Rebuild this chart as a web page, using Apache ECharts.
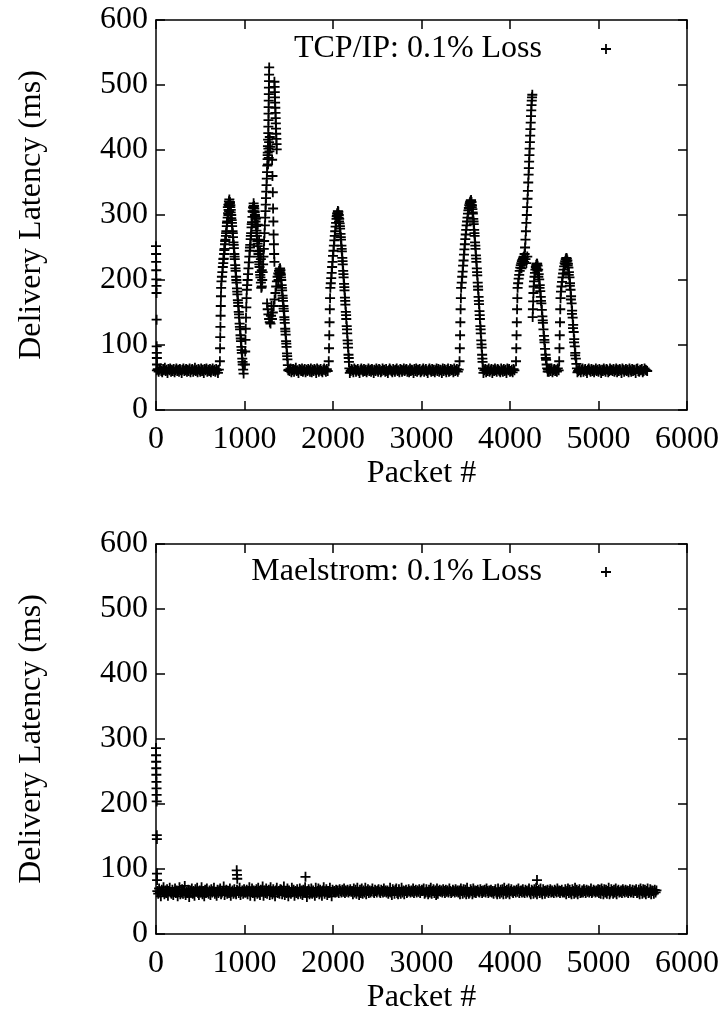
<!DOCTYPE html>
<html>
<head>
<meta charset="utf-8">
<script src="https://cdn.jsdelivr.net/npm/echarts@6/dist/echarts.min.js"></script>
<style>
html,body{margin:0;padding:0;background:#fff;}
#chart{width:728px;height:1030px;}
</style>
</head>
<body>
<div id="chart"></div>
<script>
// ---------- DATA ----------
const xTicks = [0, 1000, 2000, 3000, 4000, 5000, 6000];
const yTicks = [0, 100, 200, 300, 400, 500, 600];

// TCP/IP: first packets (x = 0,1,2,...)
const tcpStartY = [252, 240, 228, 215, 201, 191, 180, 139, 98, 88, 80, 70];

// Baselines: one value every BASE_STEP packets from each segment start
const BASE_STEP = 10;
const tcpBaseStarts = [10, 1500, 2200, 3710, 4430, 4770];
const tcpBase1 = [61,63,59,62,64,60,58,63,61,65,60,62,57,63,61,64,59,62,60,63,
58,61,64,60,62,59,63,61,57,62,64,60,61,63,59,62,60,64,58,62,
63,59,61,65,60,62,58,63,61,59,64,60,62,57,63,61,64,59,62,60,
63,58,61,64,60,62,59,63,61,57,62];
const tcpBase2 = [62,60,64,58,61,63,59,62,65,60,61,57,63,62,60,64,59,61,63,58,
62,60,63,61,59,64,58,62,60,63,61,57,64,62,59,61,63,60,58,62,
64,61,59,63,60];
const tcpBase3 = [60,63,61,58,64,62,59,61,63,60,57,62,64,61,59,63,60,62,58,61,
64,60,62,59,63,61,57,62,60,64,61,59,63,62,58,60,64,61,62,59,
63,60,57,61,64,62,60,58,63,61,59,62,64,60,61,58,63,62,59,61,
64,60,62,63,59,61,58,64,60,62,61,57,63,60,64,59,62,61,63,58,
60,62,64,59,61,63,60,57,62,64,61,59,63,60,62,58,61,64,60,63,
59,62,61,57,64,60,63,61,58,62,64,59,60,63,61,62,58,64,60,61,
63,59,62];
const tcpBase4 = [61,63,58,62,60,64,59,61,63,57,62,60,64,61,59,63,62,60,58,64,
61,59,63,60,62,57,64,61,63,59,60,62,58,63,61];
const tcpBase5 = [62,59,63,60,64,58,61,63,60,62,59,64,61];
const tcpBase6 = [60,63,61,58,62,64,59,61,63,60,57,62,64,61,59,63,60,62,58,61,
64,60,62,59,63,61,57,62,60,64,61,59,63,62,58,60,64,61,62,60,
63,59,61,64,58,62,60,63,61,57,64,62,59,61,63,60,62,58,64,61,
59,63,60,62,61,57,63,64,60,59,62,61,63,58,60,64,62,61,60];

// TCP/IP latency humps: [packet, latency]
const tcpPeak1 = [[722,75],[724,95],[726,112],[728,128],[730,145],[732,160],[734,175],[736,188],[740,198],[745,205],[750,212],[755,220],[760,226],[765,233],[770,240],[775,248],[780,255],[785,262],[790,268],[795,275],[800,283],[805,290],[810,296],[815,303],[820,308],[825,314],[830,318],[835,320],[840,315],[845,308],[850,300],[855,292],[860,283],[865,275],[870,266],[875,258],[880,249],[885,240],[890,232],[895,223],[900,214],[905,205],[910,196],[915,187],[920,178],[925,169],[930,160],[935,151],[940,142],[945,133],[950,124],[955,115],[960,106],[965,97],[970,88],[975,79],[980,70],[985,62],[990,56],
  [812,312],[818,316],[824,321],[829,324],[834,318],[839,312],[844,304],[850,295],[818,300],[826,306],[842,300],[858,288],[868,272],[878,254],[888,236],[898,218],[908,200],[918,182],[928,165],[938,147],[948,128],[958,110],[968,92],[978,74],[762,232],[772,246],[782,260],[792,272],[802,288]];
const tcpPeak2 = [[1005,70],[1008,90],[1011,108],[1014,125],[1017,142],[1020,158],[1023,172],[1026,185],[1030,192],[1035,200],[1040,209],[1045,218],[1050,227],[1055,236],[1060,245],[1065,254],[1070,263],[1075,272],[1080,281],[1085,289],[1090,297],[1095,305],[1100,311],[1105,314],[1110,310],[1115,304],[1120,297],[1125,290],[1130,283],[1135,276],[1140,268],[1145,260],[1150,252],[1155,244],[1160,236],[1165,228],[1170,220],[1175,212],[1180,204],[1185,196],[1190,188],[1130,295],[1150,285],[1165,262],[1175,245],[1185,232],[1195,215],
  [1092,306],[1098,312],[1103,318],[1108,314],[1113,306],[1118,300],[1124,294],[1138,272],[1148,256],[1158,240],[1168,224],[1178,208],[1062,250],[1072,268],[1082,286]];
const tcpSpike = [[1195,190],[1200,200],[1205,212],[1210,224],[1214,236],[1218,248],[1222,260],[1226,272],[1230,284],[1234,296],[1237,306],[1240,316],[1243,326],[1246,336],[1249,346],[1252,356],[1255,366],[1258,376],[1261,386],[1263,396],[1265,406],[1267,416],[1269,426],[1270,436],[1271,446],[1272,456],[1273,466],[1274,476],[1275,486],[1276,496],[1277,506],[1278,516],[1279,527],
  [1338,505],[1340,497],[1342,489],[1344,481],[1346,473],[1348,465],[1350,457],[1352,449],[1354,441],[1356,433],[1358,425],[1360,417],[1362,409],[1364,401],[1312,385],[1316,360],[1320,335],[1323,310],[1326,290],[1329,270],[1332,255],[1335,240],[1338,228],
  [1255,164],[1262,155],[1270,147],[1278,140],[1286,135],[1294,133],[1300,145],[1305,160],
  [1262,392],[1266,378],[1270,402],[1274,388],[1278,412],[1282,398],[1286,420],[1290,405]];
const tcpPeak3 = [[1310,140],[1320,150],[1330,160],[1340,170],[1350,180],[1358,190],[1366,198],[1374,205],[1382,210],[1385,200],[1390,214],[1395,208],[1396,217],[1400,212],[1402,218],[1406,215],[1408,210],[1410,208],[1415,200],[1420,192],[1425,184],[1430,176],[1435,168],[1440,160],[1445,152],[1450,143],[1455,134],[1460,125],[1465,116],[1470,106],[1475,97],[1480,87],[1485,78],[1490,69],[1495,61],
  [1412,204],[1422,188],[1432,172],[1442,156],[1452,139],[1462,121],[1472,102],[1482,83]];
const tcpPeak4 = [[1952,75],[1955,95],[1958,115],[1961,135],[1964,155],[1967,172],[1970,188],[1975,195],[1980,203],[1985,211],[1990,220],[1995,228],[2000,237],[2005,245],[2010,253],[2015,261],[2020,268],[2025,275],[2030,282],[2035,288],[2040,294],[2045,299],[2050,303],[2055,306],[2060,305],[2065,300],[2070,294],[2075,287],[2080,279],[2085,271],[2090,262],[2095,253],[2100,244],[2105,234],[2110,224],[2115,214],[2120,204],[2125,194],[2130,184],[2135,173],[2140,162],[2145,151],[2150,140],[2155,129],[2160,118],[2165,107],[2170,96],[2175,85],[2180,74],[2185,64],[2190,57],
  [2042,298],[2048,302],[2058,302],[2063,296],[2068,290],[2078,283],[2088,266],[2098,248],[2108,229],[2118,209],[2128,189],[2138,168],[2148,146],[2158,124],[2168,102],[2178,80]];
const tcpPeak5 = [[3430,75],[3433,95],[3436,115],[3439,135],[3442,155],[3445,172],[3448,188],[3455,196],[3460,205],[3465,213],[3470,222],[3475,230],[3480,239],[3485,247],[3490,255],[3495,263],[3500,270],[3505,277],[3510,284],[3515,290],[3520,296],[3525,302],[3530,307],[3535,311],[3540,315],[3545,318],[3550,320],[3555,322],[3560,323],[3565,320],[3570,315],[3575,309],[3580,302],[3585,294],[3590,286],[3595,277],[3600,268],[3605,258],[3610,248],[3615,238],[3620,228],[3625,218],[3630,207],[3635,196],[3640,185],[3645,174],[3650,163],[3655,152],[3660,140],[3665,129],[3670,118],[3675,107],[3680,96],[3685,85],[3690,74],[3695,64],[3700,57],
  [3538,310],[3548,314],[3558,316],[3568,312],[3578,304],[3588,290],[3598,272],[3608,253],[3618,233],[3628,212],[3638,190],[3648,168],[3658,146],[3668,124],[3678,101],[3688,79]];
const tcpPeak6 = [[4068,75],[4071,95],[4074,115],[4077,135],[4080,155],[4083,172],[4086,188],[4092,195],[4098,202],[4104,208],[4110,214],[4116,219],[4122,223],[4128,226],[4134,229],[4140,231],[4146,233],[4152,235],[4158,236],
  [4165,240],[4170,250],[4175,262],[4180,275],[4185,288],[4190,300],[4194,312],[4198,325],[4202,337],[4206,350],[4210,362],[4213,372],[4216,382],[4219,392],[4222,402],[4225,412],[4228,422],[4231,432],[4234,442],[4237,452],[4240,461],[4243,469],[4246,476],[4249,481],[4252,485],
  [4256,143],[4259,155],[4262,167],[4265,180],[4268,190],[4272,198],[4277,205],[4282,211],[4287,216],[4292,220],[4297,223],[4302,225],[4307,225],
  [4312,222],[4318,216],[4324,209],[4330,201],[4336,192],[4342,183],[4348,174],[4354,164],[4360,154],[4366,144],[4372,134],[4378,124],[4384,114],[4390,104],[4396,94],[4402,85],[4408,77],[4414,70],[4420,64],[4426,59],
  [4130,218],[4145,225],[4160,228],[4175,232],[4185,226],[4195,236],[4300,218],[4310,214],[4320,205],[4334,188],[4350,168],[4370,138],[4388,108],[4405,80]];
const tcpPeak7 = [[4556,75],[4559,95],[4562,115],[4565,135],[4568,155],[4571,172],[4576,182],[4582,190],[4588,197],[4594,204],[4600,210],[4606,216],[4612,221],[4618,226],[4624,229],[4630,232],[4636,234],[4642,233],[4648,230],[4654,225],[4660,219],[4666,212],[4672,204],[4678,195],[4684,185],[4690,175],[4696,164],[4702,153],[4708,142],[4714,131],[4720,120],[4726,109],[4732,98],[4738,88],[4744,79],[4750,71],[4756,64],[4762,58],
  [4626,224],[4640,228],[4652,222],[4664,208],[4676,191],[4688,170],[4700,148],[4712,126],[4724,104],[4736,84]];

// Maelstrom: first packets (x = 0,1,2,...)
const mStartY = [286, 275, 265, 255, 245, 234, 224, 214, 204, 152, 146, 93, 83];
// Maelstrom: isolated spikes [packet, latency]
const mOutliers = [[912,98],[915,91],[918,85],[1689,88],[4305,83]];
// Maelstrom baseline from mBaseStart, one value every BASE_STEP packets
const mBaseStart = 15;
const mBase = [66,62,70,64,58,68,65,72,61,67,63,69,59,66,71,64,62,68,60,65,
70,63,67,58,66,72,61,64,69,62,66,74,60,65,63,68,57,67,64,70,
62,66,59,69,65,71,63,60,67,64,72,61,66,58,68,63,70,65,62,67,
60,69,64,66,71,62,65,59,68,63,67,70,61,64,66,73,60,65,68,62,
66,63,70,59,65,67,62,69,64,61,68,66,63,71,60,65,67,62,69,64,
64,68,61,66,72,59,65,70,63,67,58,66,69,62,71,64,60,68,65,73,
59,67,63,70,62,66,68,60,72,65,61,69,64,58,67,71,63,66,62,69,
68,61,65,73,60,66,63,70,58,67,64,62,71,65,68,59,66,63,69,61,
65,70,62,67,60,68,64,72,63,57,66,69,61,65,70,62,67,64,59,71,
63,66,70,61,68,64,59,67,72,62,65,69,60,66,63,71,64,58,68,65,
66,64,68,65,67,63,69,66,64,68,65,70,63,67,65,68,64,66,69,65,
66,61,70,64,68,62,71,65,60,68,63,70,62,67,64,71,61,66,69,63,
67,64,66,70,65,63,68,66,64,67,69,65,63,68,66,64,70,65,67,64,
67,62,65,71,64,60,69,66,62,68,70,63,61,69,65,62,71,64,67,61,
66,68,63,65,69,66,64,67,65,70,63,66,68,64,67,65,69,63,66,68,
66,70,62,64,69,65,61,68,64,71,62,66,69,63,67,60,70,62,66,68,
65,67,64,69,66,63,68,65,67,64,70,66,63,65,68,66,64,69,65,67,
64,67,61,70,66,62,69,64,68,61,71,65,62,64,69,66,61,70,64,67,
63,66,68,65,64,69,66,63,67,65,68,64,70,66,63,67,65,68,64,66,
62,66,69,64,61,70,65,62,68,64,69,61,71,66,62,68,64,70,61,66,
69,65,63,67,66,64,68,65,70,63,66,67,64,69,65,63,68,66,64,67,
70,64,61,68,66,62,69,64,71,61,66,68,63,70,64,61,69,66,62,67,
65,68,63,66,69,64,67,65,63,68,66,64,70,65,67,63,66,68,64,65,
64,69,61,66,70,63,68,64,61,69,66,62,71,64,68,61,66,69,63,64,
67,64,69,66,63,68,65,67,64,66,70,63,65,68,66,64,67,65,69,63,
68,62,70,66,61,69,64,68,62,66,71,61,64,69,66,62,68,64,70,61,
66,68,64,65,67,63,69,66,64,68,65,67,63,66,69,64,65,68,63,67,
66,69,63,64,68,61,70,66,62,69,64,68,61,66,70,63,64,69,61,67,
66,62,68,64,67];

const tcpName = 'TCP/IP: 0.1% Loss';
const mName = 'Maelstrom: 0.1% Loss';

// ---------- BUILD SERIES DATA ----------
function seq(start, step, ys) { return ys.map((y, i) => [start + i * step, y]); }
const tcpBaseAll = [tcpBase1, tcpBase2, tcpBase3, tcpBase4, tcpBase5, tcpBase6];
let tcpData = seq(0, 1, tcpStartY);
tcpBaseAll.forEach((arr, k) => { tcpData = tcpData.concat(seq(tcpBaseStarts[k], BASE_STEP, arr)); });
tcpData = tcpData.concat(tcpPeak1, tcpPeak2, tcpSpike, tcpPeak3, tcpPeak4, tcpPeak5, tcpPeak6, tcpPeak7);

let mData = seq(0, 1, mStartY).concat(seq(mBaseStart, BASE_STEP, mBase), mOutliers);

// ---------- CHART ----------
const FONT = 'Liberation Serif';
const PLUS = 'path://M0,4.1H10V5.9H0ZM4.1,0H5.9V10H4.1Z';
const black = '#000';

function xAx(grid, pos, main) {
  return {
    type: 'value', gridIndex: grid, position: pos,
    min: xTicks[0], max: xTicks[xTicks.length - 1], interval: xTicks[1] - xTicks[0],
    axisLine: { show: true, onZero: false, lineStyle: { color: black, width: 1.5 } },
    axisTick: { show: true, inside: true, length: 9, lineStyle: { color: black, width: 1.5 } },
    axisLabel: { show: main, color: black, fontSize: 32, fontFamily: FONT, margin: 14, formatter: v => String(v) },
    splitLine: { show: false },
    name: main ? 'Packet #' : '', nameLocation: 'middle', nameGap: 48,
    nameTextStyle: { color: black, fontSize: 32, fontFamily: FONT }
  };
}
function yAx(grid, pos, main) {
  return {
    type: 'value', gridIndex: grid, position: pos,
    min: yTicks[0], max: yTicks[yTicks.length - 1], interval: yTicks[1] - yTicks[0],
    axisLine: { show: true, onZero: false, lineStyle: { color: black, width: 1.5 } },
    axisTick: { show: true, inside: true, length: 9, lineStyle: { color: black, width: 1.5 } },
    axisLabel: { show: main, color: black, fontSize: 32, fontFamily: FONT, margin: 8, formatter: v => String(v) },
    splitLine: { show: false },
    name: main ? 'Delivery Latency (ms)' : '', nameLocation: 'middle', nameGap: 108,
    nameTextStyle: { color: black, fontSize: 32, fontFamily: FONT }
  };
}
function legendFor(name, top) {
  return {
    data: [name], right: 112, top: top, align: 'right', orient: 'horizontal',
    icon: PLUS, itemWidth: 10, itemHeight: 10, selectedMode: false,
    itemStyle: { color: black, borderWidth: 0 },
    textStyle: { color: black, fontSize: 32, fontFamily: FONT, padding: [0, 54, 0, 0] }
  };
}
function scatter(name, data, xi, yi) {
  return {
    type: 'scatter', name: name, data: data, xAxisIndex: xi, yAxisIndex: yi,
    symbol: PLUS, symbolSize: 10, large: false, progressive: 0,
    itemStyle: { color: black, opacity: 1, borderWidth: 0 },
    emphasis: { disabled: true }, silent: true
  };
}

const chart = echarts.init(document.getElementById('chart'), null, { renderer: 'canvas' });
chart.setOption({
  animation: false,
  backgroundColor: '#fff',
  textStyle: { fontFamily: FONT },
  grid: [
    { left: 156, top: 20, width: 531, height: 390 },
    { left: 156, top: 544, width: 531, height: 390 }
  ],
  xAxis: [xAx(0, 'bottom', true), xAx(0, 'top', false), xAx(1, 'bottom', true), xAx(1, 'top', false)],
  yAxis: [yAx(0, 'left', true), yAx(0, 'right', false), yAx(1, 'left', true), yAx(1, 'right', false)],
  legend: [legendFor(tcpName, 28), legendFor(mName, 551)],
  series: [scatter(tcpName, tcpData, 0, 0), scatter(mName, mData, 2, 2)]
});
</script>
</body>
</html>
